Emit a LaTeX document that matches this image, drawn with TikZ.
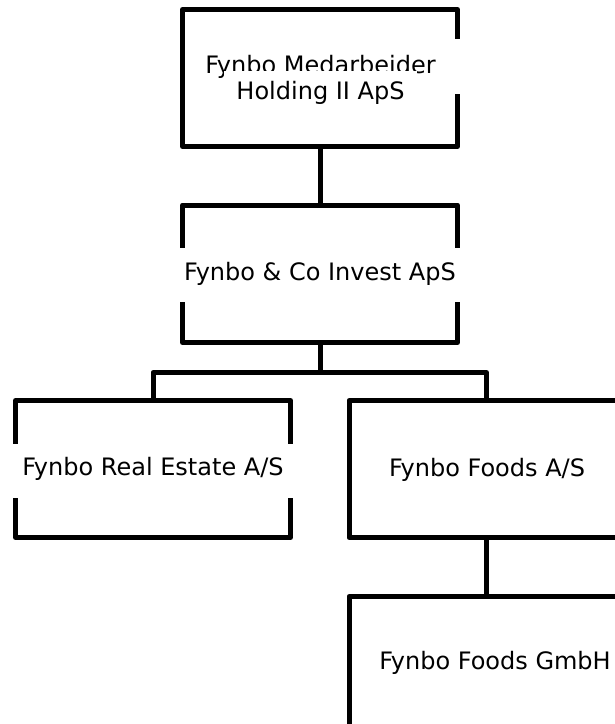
\documentclass[tikz,border=0pt]{standalone}
\usepackage{fontspec}
\setmainfont{DejaVu Sans}
\begin{document}
\begin{tikzpicture}[x=1pt,y=-1pt,
  orgbox/.style={draw=black, line width=5pt, line join=round, rectangle,
    minimum width=275pt, minimum height=137pt, inner sep=0pt, outer sep=0pt},
  conn/.style={draw=black, line width=5pt, line join=round},
  lbl/.style={fill=white, anchor=base, inner xsep=10pt, inner ysep=12pt,
    text height=20pt, text depth=10pt, font=\fontsize{24pt}{29pt}\selectfont},
  lbltop/.style={fill=white, anchor=base, inner xsep=12pt, inner ysep=10pt,
    font=\fontsize{24pt}{29pt}\selectfont}]
\useasboundingbox (0,0) rectangle (615,724);
\clip (0,0) rectangle (615,724);
\fill[white] (0,0) rectangle (615,724);
% boxes
\node[orgbox] (b1) at (320,78) {};
\node[orgbox, minimum height=137.5pt] (b2) at (320,273.75) {};
\node[orgbox] (b3) at (153,469) {};
\node[orgbox] (b4) at (486.5,469) {};
\node[orgbox] (b5) at (486.5,665) {};
% connectors
\draw[conn] (b1.south) -- (b2.north);
\coordinate (bus) at ([yshift=-30pt]b2.south);
\draw[conn] (b2.south) -- (bus) -| (b3.north);
\draw[conn] (bus) -| (b4.north);
\draw[conn] (b4.south) -- (b5.north);
% artifact gap on right border of top box
\fill[white] (452,39) rectangle (463,94);
% labels
\node[anchor=base, font=\fontsize{24pt}{29pt}\selectfont] (t1a) at (320.5,73.5) {Fynbo Medarbeider};
\node[lbltop] (t1b) at (320.5,99.5) {Holding II ApS};
\node[lbl] (t2) at (320,280) {Fynbo \& Co Invest ApS};
\node[lbl] (t3) at (153,475.5) {Fynbo Real Estate A/S};
\node[lbl] (t4) at (487,476) {Fynbo Foods A/S};
\node[lbl] (t5) at (495,669.5) {Fynbo Foods GmbH};
\end{tikzpicture}
\end{document}
